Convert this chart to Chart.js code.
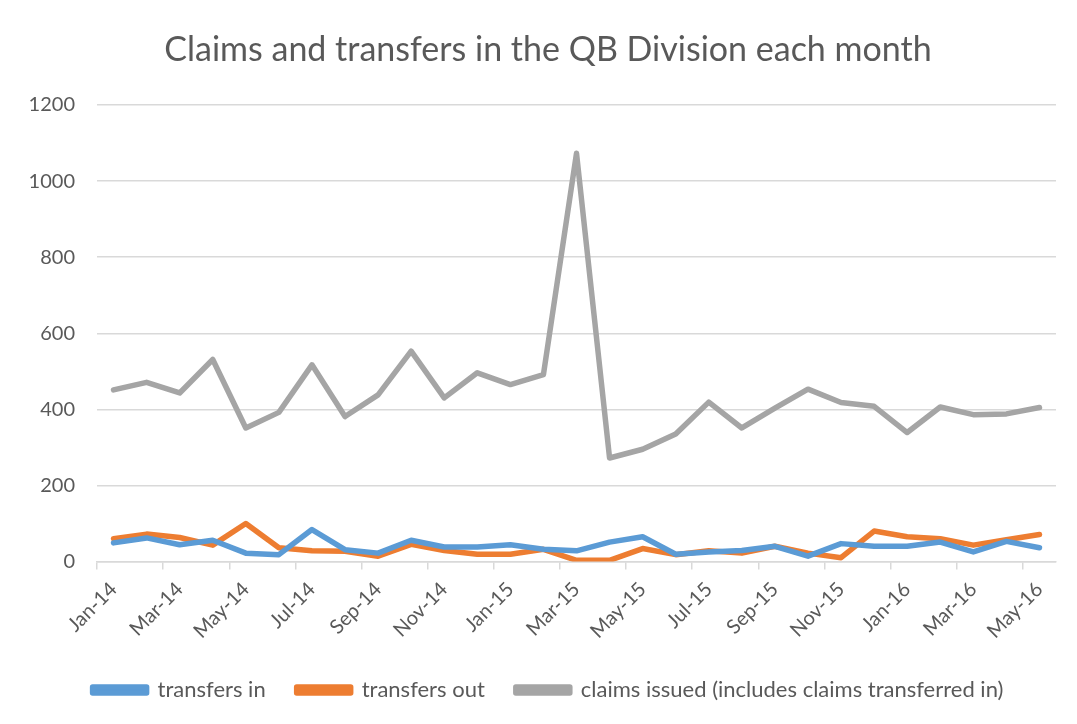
<!DOCTYPE html>
<html>
<head>
<meta charset="utf-8">
<script src="https://cdn.jsdelivr.net/npm/chart.js@4/dist/chart.umd.min.js"></script>
<style>
  html, body { margin: 0; padding: 0; background: #ffffff; }
  #wrap { width: 1077px; height: 724px; position: relative; }
</style>
</head>
<body>
<div id="wrap"><canvas id="c" width="1077" height="724"></canvas></div>
<script>
const months = ["Jan-14","Feb-14","Mar-14","Apr-14","May-14","Jun-14","Jul-14","Aug-14","Sep-14","Oct-14","Nov-14","Dec-14",
                "Jan-15","Feb-15","Mar-15","Apr-15","May-15","Jun-15","Jul-15","Aug-15","Sep-15","Oct-15","Nov-15","Dec-15",
                "Jan-16","Feb-16","Mar-16","Apr-16","May-16"];
const transfersIn  = [49,62,44,56,22,18,84,31,22,56,38,38,44,32,28,51,65,19,25,29,40,14,47,40,40,51,25,53,36];
const transfersOut = [60,72,63,43,100,36,28,27,14,45,29,19,19,32,3,3,34,18,28,22,40,22,10,80,65,60,43,57,71];
const claimsIssued = [451,471,443,531,351,392,517,381,438,553,430,496,465,491,1073,272,295,335,419,351,403,453,418,408,339,406,386,388,405];
const yTicks = [0,200,400,600,800,1000,1200];

const FONT = "Lato, 'Open Sans', sans-serif";
const TXT = "#595959";

new Chart(document.getElementById('c'), {
  type: 'line',
  data: {
    labels: months,
    datasets: [
      { label: 'transfers in', data: transfersIn, borderColor: '#5B9BD5', backgroundColor: '#5B9BD5' },
      { label: 'transfers out', data: transfersOut, borderColor: '#ED7D31', backgroundColor: '#ED7D31' },
      { label: 'claims issued (includes claims transferred in)', data: claimsIssued, borderColor: '#A5A5A5', backgroundColor: '#A5A5A5' }
    ]
  },
  options: {
    responsive: false,
    animation: false,
    devicePixelRatio: 1,
    layout: { padding: { left: 40, right: 21, top: 0, bottom: 13 } },
    elements: {
      line: { borderWidth: 5.5, tension: 0, borderJoinStyle: 'round', borderCapStyle: 'round' },
      point: { radius: 0, hoverRadius: 0 }
    },
    plugins: {
      title: {
        display: true,
        text: 'Claims and transfers in the QB Division each month',
        color: TXT,
        font: { family: FONT, size: 34, weight: 'normal' },
        padding: { top: 30, bottom: 34.2 }
      },
      legend: {
        position: 'bottom',
        labels: {
          color: TXT,
          font: { family: FONT, size: 22 },
          boxWidth: 54,
          boxHeight: 6,
          padding: 31
        }
      },
      tooltip: { enabled: false }
    },
    scales: {
      x: {
        offset: true,
        grid: {
          offset: true,
          drawOnChartArea: false,
          drawTicks: true,
          tickLength: 8,
          color: (ctx) => (ctx.index % 2 === 0 ? '#d9d9d9' : 'rgba(0,0,0,0)'),
          lineWidth: 1.5
        },
        border: { display: true, color: '#d9d9d9', width: 1.5 },
        ticks: {
          autoSkip: false,
          maxRotation: 45,
          minRotation: 45,
          color: TXT,
          padding: 8,
          font: { family: FONT, size: 20 },
          callback: function(v, i) { return i % 2 === 0 ? this.getLabelForValue(v) : ''; }
        },
        afterFit: (s) => { s.height = 86.5; }
      },
      y: {
        min: 0,
        max: 1200,
        afterBuildTicks: (s) => { s.ticks = yTicks.map(v => ({ value: v })); },
        grid: { color: '#d9d9d9', lineWidth: 1.5, drawTicks: false },
        border: { display: false },
        ticks: {
          color: TXT,
          padding: 22,
          font: { family: FONT, size: 20 },
          callback: (v) => String(v)
        },
        afterFit: (s) => { s.width = 57; s._computeLabelArea = () => undefined; }
      }
    }
  }
});
</script>
</body>
</html>
